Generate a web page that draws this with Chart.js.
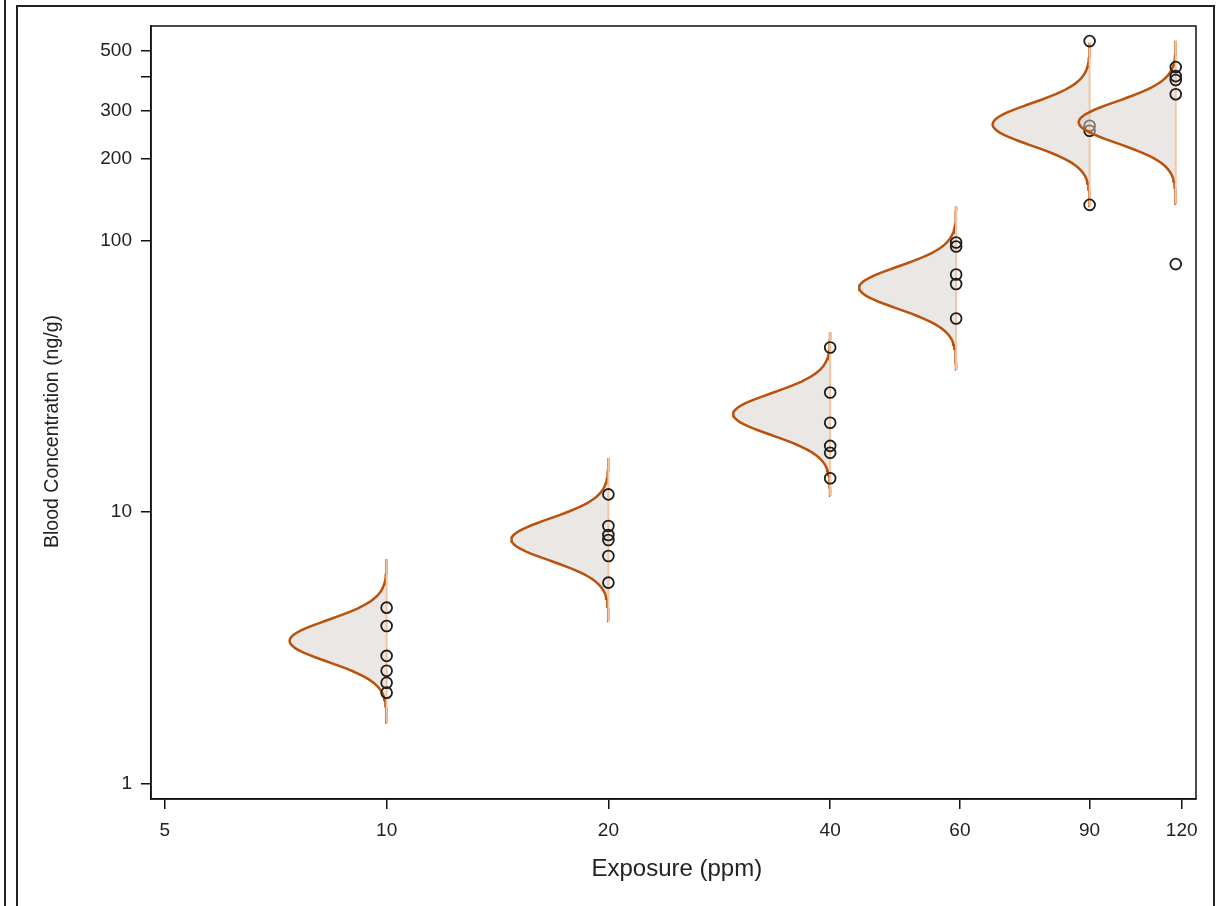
<!DOCTYPE html>
<html>
<head>
  <title>Blood Concentration vs Exposure</title>
  <script src="https://cdn.jsdelivr.net/npm/chart.js"></script>
  <style>
    body { margin: 0; background: #fff; }
    canvas { display: block; }
  </style>
</head>
<body>
  <canvas id="bloodChart" width="1230" height="906"></canvas>

  <script>
    // exposure groups (ppm, as placed in the picture) and blood concentrations (ng/g)
    const exposure = [10, 20, 40, 59.3, 90, 117.8];
    const blood10 = [4.44, 3.80, 2.95, 2.60, 2.35, 2.16];
    const blood20 = [11.6, 8.87, 8.22, 7.88, 6.88, 5.49];
    const blood40 = [40.3, 27.5, 21.3, 17.5, 16.5, 13.3];
    const blood60 = [98.1, 94.8, 74.8, 69.0, 51.5];
    const blood90 = [541, 264, 253, 135];
    const blood120 = [434, 402, 389, 345, 81.7];
    const groups = [blood10, blood20, blood40, blood60, blood90, blood120];

    // fitted lognormal per group: geometric mean and sd of log10(conc)
    const fitMean = [3.35, 7.91, 22.9, 66.9, 267, 272];
    const fitSdLog = 0.077;

    const xTicks = [5, 10, 20, 40, 60, 90, 120];
    const yTicks = [1, 10, 100, 200, 300, 400, 500];
    const yLabelled = [1, 10, 100, 200, 300, 500];

    const font = "'Liberation Sans', Arial, sans-serif";
    const zEnd = 3.9;         // curve drawn out to +/- this many sd
    const peakWidth = 0.1317; // peak height of density, in decades of x

    function densityCurve(e, mean, sd) {
      const pts = [];
      const n = 80;
      for (let i = 0; i <= n; i++) {
        const z = -zEnd + 2 * zEnd * i / n;
        const y = Math.pow(10, Math.log10(mean) + z * sd);
        const x = e / Math.pow(10, peakWidth * Math.exp(-z * z / 2));
        pts.push({ x, y });
      }
      return pts;
    }

    const datasets = [];
    exposure.forEach((e, g) => {
      const base = (exposure.length - 1 - g) * 10;
      const lo = Math.pow(10, Math.log10(fitMean[g]) - zEnd * fitSdLog);
      const hi = Math.pow(10, Math.log10(fitMean[g]) + zEnd * fitSdLog);
      datasets.push({
        label: "fit " + e,
        data: densityCurve(e, fitMean[g], fitSdLog),
        showLine: true,
        borderColor: "#b9520c",
        borderWidth: 2.5,
        backgroundColor: "rgba(214,207,202,0.5)",
        fill: "shape",
        pointRadius: 0,
        tension: 0,
        order: base + 2
      });
      datasets.push({
        label: "base " + e,
        data: [{ x: e, y: lo }, { x: e, y: hi }],
        showLine: true,
        borderColor: "#f6c4a0",
        borderWidth: 2,
        pointRadius: 0,
        fill: false,
        order: base + 1
      });
      datasets.push({
        label: "obs " + e,
        data: groups[g].map(v => ({ x: e, y: v })),
        showLine: false,
        pointStyle: "circle",
        pointRadius: 5.4,
        pointBorderWidth: 1.8,
        pointBorderColor: "#1e1e1e",
        pointBackgroundColor: "rgba(0,0,0,0)",
        order: base
      });
    });

    const frame = {
      id: "frame",
      afterDraw(chart) {
        const { ctx, chartArea: a } = chart;
        ctx.save();
        ctx.strokeStyle = "#111";
        ctx.lineWidth = 1.5;
        ctx.strokeRect(a.left, a.top, a.right - a.left, a.bottom - a.top);
        ctx.lineWidth = 2;
        ctx.strokeStyle = "#222";
        ctx.beginPath();
        ctx.moveTo(5, 0); ctx.lineTo(5, 906);
        ctx.moveTo(17, 906); ctx.lineTo(17, 6); ctx.lineTo(1214, 6); ctx.lineTo(1214, 906);
        ctx.stroke();
        ctx.restore();
      }
    };

    new Chart(document.getElementById("bloodChart"), {
      type: "scatter",
      data: { datasets },
      plugins: [frame],
      options: {
        responsive: false,
        animation: false,
        layout: { padding: { left: 0, top: 26, right: 34, bottom: 0 } },
        plugins: { legend: { display: false }, tooltip: { enabled: false } },
        scales: {
          x: {
            type: "logarithmic",
            min: 4.788,
            max: 125.5,
            afterFit: s => { s.height = 107; },
            afterBuildTicks: s => { s.ticks = xTicks.map(v => ({ value: v })); },
            ticks: {
              autoSkip: false,
              maxRotation: 0,
              padding: 10,
              color: "#222",
              font: { family: font, size: 19 },
              callback: v => String(v)
            },
            grid: { drawOnChartArea: false, drawTicks: true, tickLength: 10, color: "#111", lineWidth: 1.5 },
            border: { display: true, color: "#111", width: 1.5 },
            title: {
              display: true,
              text: " Exposure (ppm)",
              color: "#222",
              font: { family: font, size: 24 },
              padding: { top: 0, bottom: 22 }
            }
          },
          y: {
            type: "logarithmic",
            min: 0.877,
            max: 615,
            afterFit: s => { s.width = 151; },
            afterBuildTicks: s => { s.ticks = yTicks.map(v => ({ value: v })); },
            ticks: {
              autoSkip: false,
              padding: 9,
              color: "#222",
              font: { family: font, size: 19 },
              callback: v => (yLabelled.includes(v) ? String(v) : "")
            },
            grid: { drawOnChartArea: false, drawTicks: true, tickLength: 10, color: "#111", lineWidth: 1.5 },
            border: { display: true, color: "#111", width: 1.5 },
            title: {
              display: true,
              // trailing spaces push the label down the axis, as in the source
              text: "Blood Concentration (ng/g)       ",
              color: "#222",
              font: { family: font, size: 19.5 },
              padding: { top: 41, bottom: 0 }
            }
          }
        }
      }
    });
  </script>
</body>
</html>
